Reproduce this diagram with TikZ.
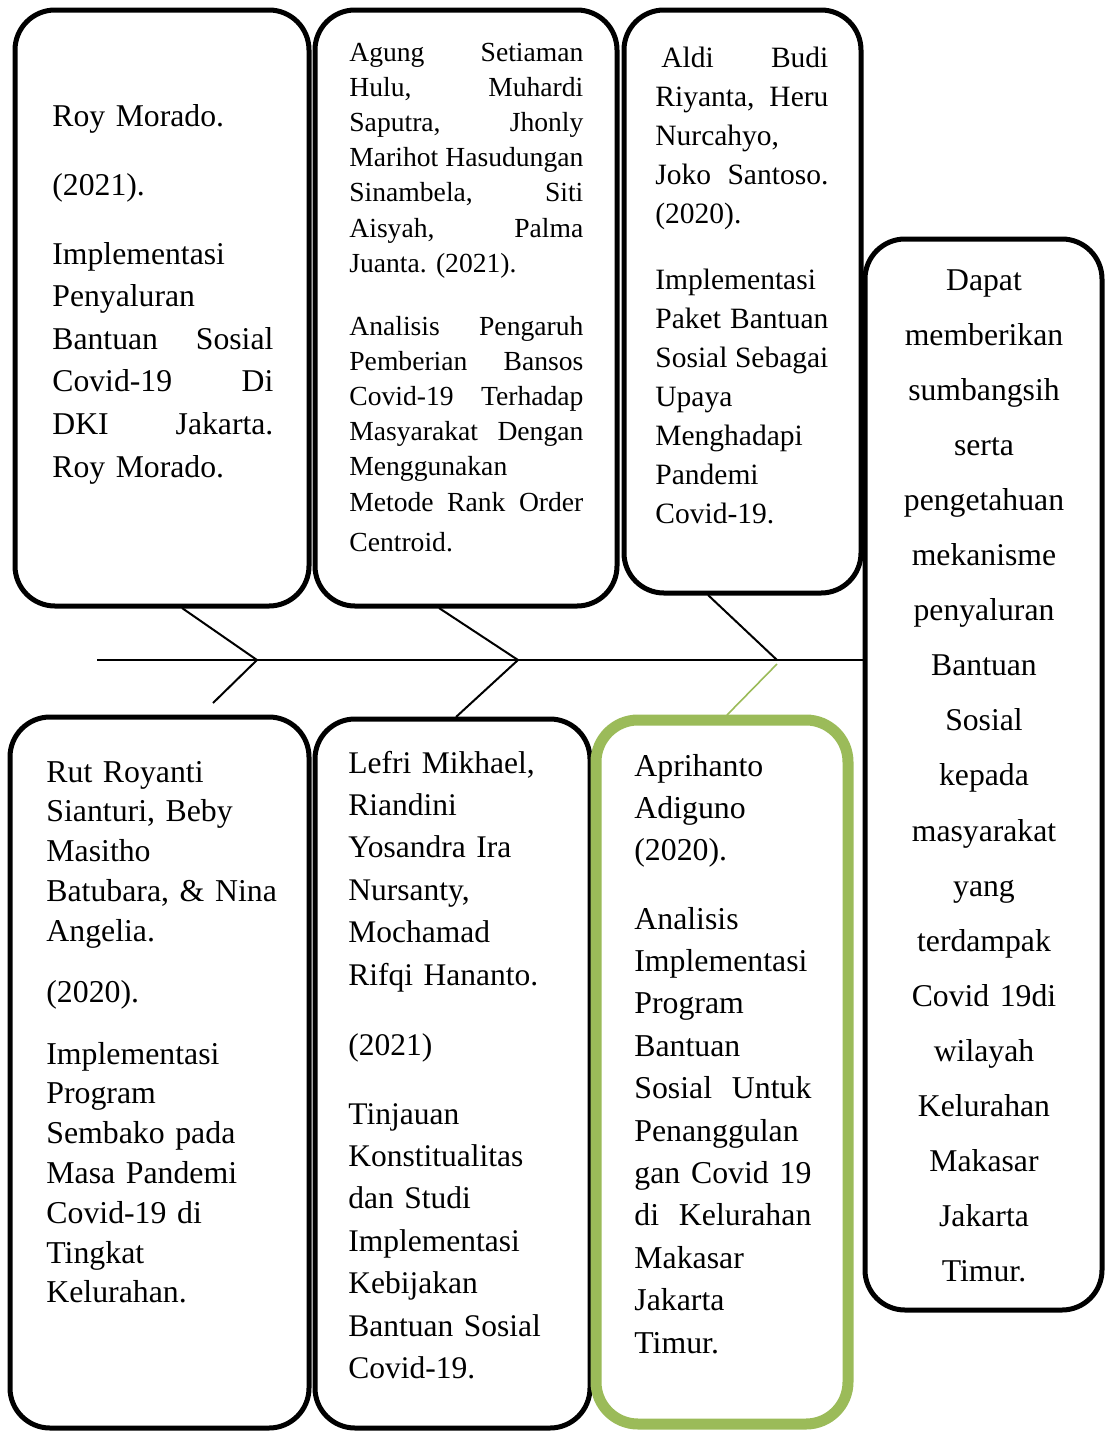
\documentclass[tikz,border=0pt]{standalone}
\usepackage{fontspec}
\setmainfont{Liberation Serif}
\newcommand\jl[1]{\leavevmode\hbox to \hsize{#1}}
\frenchspacing
\definecolor{olivegreen}{HTML}{9BBB59}
\begin{document}
\begin{tikzpicture}[x=0.5pt,y=-0.5pt,
  box/.style={draw=black, line width=2.5pt, rounded corners=20pt, fill=white, inner sep=0pt},
  greenbox/.style={draw=olivegreen, line width=5.5pt, rounded corners=21pt, fill=white, inner sep=0pt},
  bone/.style={draw=black, line width=1pt},
  greenbone/.style={draw=olivegreen, line width=0.8pt},
  txt/.style={anchor=base west, inner sep=0pt, align=left},
  fA/.style={font=\fontsize{15.85}{21.3}\selectfont},
  fB/.style={font=\fontsize{13.8}{17.6}\selectfont},
  fC/.style={font=\fontsize{14.75}{19.5}\selectfont},
  fD/.style={font=\fontsize{15.85}{27.55}\selectfont},
  fE/.style={font=\fontsize{15.9}{19.9}\selectfont},
  fF/.style={font=\fontsize{15.75}{21.2}\selectfont},
  fG/.style={font=\fontsize{15.9}{21.2}\selectfont},
]
\useasboundingbox (0,0) rectangle (1115,1431);

% spine and bone coordinates
\coordinate (tail) at (97,660);
\coordinate (v1) at (257,660);
\coordinate (v2) at (518,660);
\coordinate (v3) at (777,660);
\coordinate (v3g) at (777,664);
\coordinate (t1) at (182,608);
\coordinate (t2) at (439,608);
\coordinate (t3) at (708,595);
\coordinate (u1) at (213,703);
\coordinate (u2) at (456,717);
\coordinate (u3) at (727,715);

% boxes
\node[box, minimum width=147pt, minimum height=298pt] (b1) at (162,308) {};
\node[box, minimum width=151pt, minimum height=298pt] (b2) at (466,308) {};
\node[box, minimum width=118.5pt, minimum height=291.5pt] (b3) at (742.5,301.5) {};
\node[box, minimum width=118.5pt, minimum height=535.5pt] (b4) at (983.5,774.5) {};
\node[box, minimum width=149.5pt, minimum height=355.5pt] (b5) at (159.5,1072.5) {};
\node[box, minimum width=137.5pt, minimum height=354.5pt] (b6) at (452.5,1073.5) {};
\node[greenbox, minimum width=126pt, minimum height=352pt] (b7) at (722,1072) {};

% fishbone
\draw[bone] (tail) -- (v3 -| b4.west);
\draw[bone] (t1) -- (v1) -- (u1);
\draw[bone] (t2) -- (v2) -- (u2);
\draw[bone] (t3) -- (v3);
\draw[greenbone] (v3g) -- (u3);

% box 1
\node[txt, fA, text width=110.5pt] (b1p1) at (52,126) {Roy Morado.};
\node[txt, fA, text width=110.5pt] (b1p2) at (52,195) {(2021).};
\node[txt, fA, text width=110.5pt] (b1p3) at (52,264) {Implementasi\\ Penyaluran\\ \jl{Bantuan\hfill Sosial}\\ \jl{Covid-19\hfill Di}\\ \jl{DKI\hfill Jakarta.}\\ Roy Morado.};

% box 2
\node[txt, fB, text width=117pt] (b2p1) at (349,61) {\jl{Agung\hfill Setiaman}\\ \jl{Hulu,\hfill Muhardi}\\ \jl{Saputra,\hfill Jhonly}\\ \jl{Marihot\hfill Hasudungan}\\ \jl{Sinambela,\hfill Siti}\\ \jl{Aisyah,\hfill Palma}\\ Juanta. (2021).};
\node[txt, fB, text width=117pt] (b2p2) at (349,335) {\jl{Analisis\hfill Pengaruh}\\ \jl{Pemberian\hfill Bansos}\\ \jl{Covid-19\hfill Terhadap}\\ \jl{Masyarakat\hfill Dengan}\\ Menggunakan\\ \jl{Metode\hfill Rank\hfill Order}\\[2.4pt] Centroid.};

% box 3
\node[txt, fC, text width=86.5pt] (b3p1) at (655,67) {\jl{\kern3pt Aldi\hfill Budi}\\ \jl{Riyanta,\hfill Heru}\\ Nurcahyo,\\ \jl{Joko\hfill Santoso.}\\ (2020).};
\node[txt, fC, text width=86.5pt] (b3p2) at (655,289) {Implementasi\\ \jl{Paket\hfill Bantuan}\\ \jl{Sosial\hfill Sebagai}\\ Upaya\\ Menghadapi\\ Pandemi\\ Covid-19.};

% box 4
\node[anchor=base, inner sep=0pt, align=center, fD, text width=118pt] (b4p1) at (984,290) {Dapat\\ memberikan\\ sumbangsih\\ serta\\ pengetahuan\\ mekanisme\\ penyaluran\\ Bantuan\\ Sosial\\ kepada\\ masyarakat\\ yang\\ terdampak\\ Covid 19di\\ wilayah\\ Kelurahan\\ Makasar\\ Jakarta\\ Timur.};

% box 5
\node[txt, fE, text width=125pt] (b5p1) at (46,782) {Rut Royanti\\ Sianturi, Beby\\ Masitho\\ Batubara, \& Nina\\ Angelia.};
\node[txt, fE, text width=125pt] (b5p2) at (46,1002) {(2020).};
\node[txt, fE, text width=125pt] (b5p3) at (46,1064) {Implementasi\\ Program\\ Sembako pada\\ Masa Pandemi\\ Covid-19 di\\ Tingkat\\ Kelurahan.};

% box 6
\node[txt, fF, text width=115pt] (b6p1) at (348,773) {Lefri Mikhael,\\ Riandini\\ Yosandra Ira\\ Nursanty,\\ Mochamad\\ Rifqi Hananto.};
\node[txt, fF, text width=115pt] (b6p2) at (348,1055) {(2021)};
\node[txt, fF, text width=115pt] (b6p3) at (348,1124) {Tinjauan\\ Konstitualitas\\ dan Studi\\ Implementasi\\ Kebijakan\\ Bantuan Sosial\\ Covid-19.};

% box 7
\node[txt, fG, text width=88.5pt] (b7p1) at (634,776) {Aprihanto\\ Adiguno\\ (2020).};
\node[txt, fG, text width=88.5pt] (b7p2) at (634,929) {Analisis\\ Implementasi\\ Program\\ Bantuan\\ \jl{Sosial\hfill Untuk}\\ Penanggulan\\ \jl{gan\hfill Covid\hfill 19}\\ \jl{di\hfill Kelurahan}\\ Makasar\\ Jakarta\\ Timur.};
\end{tikzpicture}
\end{document}
